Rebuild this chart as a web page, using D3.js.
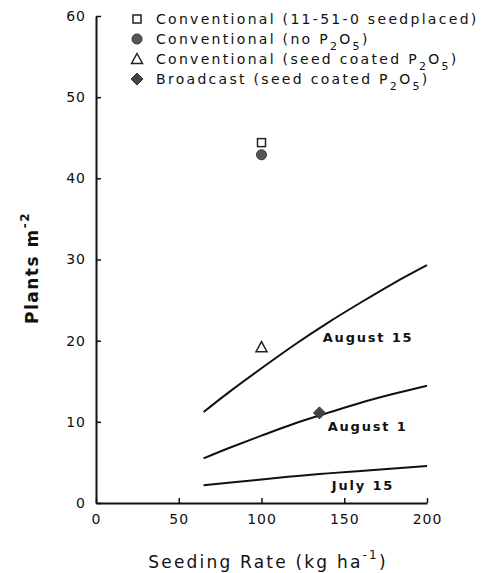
<!DOCTYPE html>
<html>
<head>
<meta charset="utf-8">
<script src="https://cdn.jsdelivr.net/npm/d3@7"></script>
<style>
  body { margin: 0; background: #fff; }
  svg text { font-family: "DejaVu Sans", sans-serif; fill: #111; }
</style>
</head>
<body>
<div id="chart"></div>
<script>
// fitted curves (seeding rate -> plants m^-2)
const rates = [65, 80, 100, 120, 140, 160, 180, 200];
const aug15 = [11.2, 13.6, 16.6, 19.5, 22.2, 24.7, 27.1, 29.3];
const aug1 = [5.5, 6.75, 8.3, 9.8, 11.1, 12.35, 13.45, 14.45];
const jul15 = [2.2, 2.5, 2.9, 3.3, 3.65, 3.95, 4.25, 4.55];
const curveNames = ["August 15", "August 1", "July 15"];

// observed treatments
const pointNames = ["Conventional (11-51-0 seedplaced)", "Conventional (no P2O5)",
  "Conventional (seed coated P2O5)", "Broadcast (seed coated P2O5)"];
const pointX = [100, 100, 100, 135];
const pointY = [44.4, 42.9, 19.2, 11.1];
const pointShapes = ["square", "circle", "triangle", "diamond"];

const xTicks = [0, 50, 100, 150, 200];
const yTicks = [0, 10, 20, 30, 40, 50, 60];

const width = 489, height = 573;
const svg = d3.select("#chart").append("svg")
  .attr("width", width).attr("height", height);

const x = d3.scaleLinear().domain([0, 200]).range([96, 427]);
const y = d3.scaleLinear().domain([0, 60]).range([503, 16]);

// axes
const yAxis = svg.append("g")
  .attr("transform", `translate(${x(0)},0)`)
  .call(d3.axisLeft(y).tickValues(yTicks).tickSizeInner(-5).tickSizeOuter(0).tickPadding(10));
const xAxis = svg.append("g")
  .attr("transform", `translate(0,${y(0)})`)
  .call(d3.axisBottom(x).tickValues(xTicks).tickSizeInner(-5).tickSizeOuter(0).tickPadding(11));
[xAxis, yAxis].forEach(g => {
  g.select(".domain").attr("stroke", "#111").attr("stroke-width", 2);
  g.selectAll(".tick line").attr("stroke", "#111").attr("stroke-width", 1.5);
  g.selectAll(".tick text").style("font-family", "DejaVu Sans").style("font-size", "14px")
    .style("letter-spacing", "1px").attr("fill", "#111");
});

// curves
const line = d3.line().x((d, i) => x(rates[i])).y(d => y(d)).curve(d3.curveNatural);
[aug15, aug1, jul15].forEach(s => {
  svg.append("path").datum(s).attr("d", line)
    .attr("fill", "none").attr("stroke", "#111").attr("stroke-width", 2);
});

// curve labels
const labelPos = [[137, 20.4], [140, 9.4], [142.5, 2.2]];
curveNames.forEach((n, i) => {
  svg.append("text").attr("x", x(labelPos[i][0])).attr("y", y(labelPos[i][1]))
    .attr("dy", "0.35em").style("font-size", "13px").style("font-weight", "bold")
    .style("letter-spacing", "1.8px").text(n);
});

// markers
function marker(g, shape, cx, cy) {
  if (shape === "square") {
    g.append("rect").attr("x", cx - 4).attr("y", cy - 4).attr("width", 8).attr("height", 8)
      .attr("fill", "#fff").attr("stroke", "#222").attr("stroke-width", 1.5);
  } else if (shape === "circle") {
    g.append("circle").attr("cx", cx).attr("cy", cy).attr("r", 5)
      .attr("fill", "#555").attr("stroke", "#333").attr("stroke-width", 1);
  } else if (shape === "triangle") {
    g.append("path").attr("d", `M${cx},${cy - 5.5}L${cx + 5.5},${cy + 4.5}L${cx - 5.5},${cy + 4.5}Z`)
      .attr("fill", "#fff").attr("stroke", "#222").attr("stroke-width", 1.5);
  } else {
    g.append("path").attr("d", `M${cx},${cy - 6}L${cx + 6},${cy}L${cx},${cy + 6}L${cx - 6},${cy}Z`)
      .attr("fill", "#444").attr("stroke", "#333").attr("stroke-width", 1);
  }
}
const pts = svg.append("g");
pointX.forEach((v, i) => marker(pts, pointShapes[i], x(v), y(pointY[i])));

// legend
const leg = svg.append("g");
pointNames.forEach((n, i) => {
  const ly = 19 + i * 20;
  marker(leg, pointShapes[i], 137, ly);
  const t = leg.append("text").attr("x", 156).attr("y", ly).attr("dy", "0.35em")
    .style("font-size", "14px").style("letter-spacing", "2.3px");
  const parts = n.split("P2O5");
  t.append("tspan").text(parts[0]);
  if (parts.length > 1) {
    t.append("tspan").text("P");
    t.append("tspan").attr("dy", 6).style("font-size", "11px").text("2");
    t.append("tspan").attr("dy", -6).text("O");
    t.append("tspan").attr("dy", 6).style("font-size", "11px").text("5");
    t.append("tspan").attr("dy", -6).text(parts[1]);
  }
});

// axis titles
const xt = svg.append("text").attr("x", 268).attr("y", 568).attr("text-anchor", "middle")
  .style("font-size", "17px").style("letter-spacing", "2.2px");
xt.append("tspan").text("Seeding Rate (kg ha");
xt.append("tspan").attr("dy", -9).style("font-size", "12px").text("-1");
xt.append("tspan").attr("dy", 9).text(")");

const yt = svg.append("text").attr("transform", "translate(38,268) rotate(-90)")
  .attr("text-anchor", "middle").style("font-size", "17px").style("font-weight", "bold")
  .style("letter-spacing", "1.5px");
yt.append("tspan").text("Plants m");
yt.append("tspan").attr("dy", -9).style("font-size", "12px").text("-2");
</script>
</body>
</html>
